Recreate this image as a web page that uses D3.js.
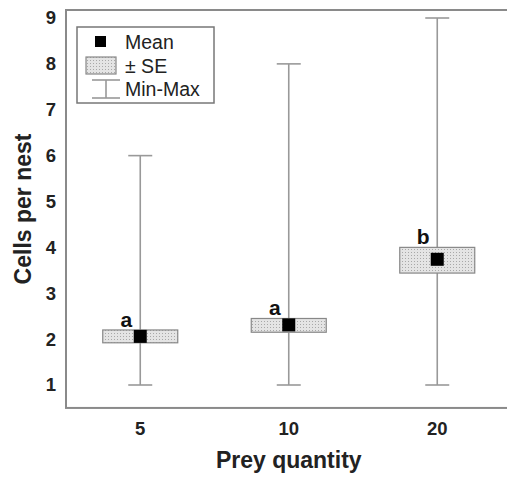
<!DOCTYPE html>
<html>
<head>
<meta charset="utf-8">
<script src="https://cdn.jsdelivr.net/npm/d3@7"></script>
<style>
  body { margin: 0; background: #fff; }
  svg { display: block; font-family: 'Liberation Sans', Arial, sans-serif; }
  .frame { fill: none; stroke: #8a8a8a; stroke-width: 2; }
  .whisker { stroke: #999; stroke-width: 1.6; }
  .se { stroke: #888; stroke-width: 1.2; }
  .axis text { font-size: 18.5px; font-weight: bold; fill: #222; }
  .title { font-size: 23px; font-weight: bold; fill: #222; }
  .letter { font-size: 21px; font-weight: bold; fill: #111; text-anchor: middle; }
  .legend text { font-size: 19.5px; fill: #222; }
</style>
</head>
<body>
<div id="chart"></div>
<script>
const width = 507
const height = 478

// data
const preyQuantity = ['5', '10', '20']
const means = [2.06, 2.31, 3.74]
const seLow = [1.92, 2.15, 3.44]
const seHigh = [2.2, 2.45, 4.0]
const mins = [1, 1, 1]
const maxs = [6, 8, 9]
const groupLetters = ['a', 'a', 'b']
const yTicks = [1, 2, 3, 4, 5, 6, 7, 8, 9]

const rows = preyQuantity.map((q, i) => ({
  q, mean: means[i], lo: seLow[i], hi: seHigh[i], min: mins[i], max: maxs[i], letter: groupLetters[i]
}))

const svg = d3.select('#chart')
  .append('svg')
  .attr('width', width)
  .attr('height', height)

// dotted fill for the SE boxes
const pat = svg.append('defs').append('pattern')
  .attr('id', 'dots')
  .attr('width', 3)
  .attr('height', 3)
  .attr('patternUnits', 'userSpaceOnUse')
pat.append('rect').attr('width', 3).attr('height', 3).attr('fill', '#e4e4e4')
pat.append('rect').attr('width', 1).attr('height', 1).attr('fill', '#a8a8a8')

const x = d3.scaleBand().domain(preyQuantity).range([66, 511.5]).padding(0)
const y = d3.scaleLinear().domain([1, 9]).range([385, 18])
const cx = d => x(d) + x.bandwidth() / 2

// frame (right side runs off the picture)
svg.append('rect')
  .attr('class', 'frame')
  .attr('x', x.range()[0])
  .attr('y', 10)
  .attr('width', x.range()[1] - x.range()[0] + 20)
  .attr('height', y(0.5) - 10)

// axes
const yAxis = svg.append('g')
  .attr('class', 'axis')
  .attr('transform', `translate(${x.range()[0]},0)`)
  .call(d3.axisLeft(y).tickValues(yTicks).tickSize(0).tickPadding(10).tickFormat(d3.format('d')))
yAxis.select('.domain').remove()

const xAxis = svg.append('g')
  .attr('class', 'axis')
  .attr('transform', `translate(0,${y(0.5)})`)
  .call(d3.axisBottom(x).tickSize(0).tickPadding(13.5))
xAxis.select('.domain').remove()

svg.append('text')
  .attr('class', 'title')
  .attr('text-anchor', 'middle')
  .attr('x', cx('10'))
  .attr('y', 468)
  .text('Prey quantity')

svg.append('text')
  .attr('class', 'title')
  .attr('text-anchor', 'middle')
  .attr('transform', `translate(31,${(10 + y(0.5)) / 2}) rotate(-90)`)
  .text('Cells per nest')

// boxes
const capW = 24
const boxW = 75
const meanS = 13
const g = svg.selectAll('.group')
  .data(rows)
  .enter()
    .append('g')
    .attr('class', 'group')

g.append('line')
  .attr('class', 'whisker')
  .attr('x1', d => cx(d.q)).attr('x2', d => cx(d.q))
  .attr('y1', d => y(d.min)).attr('y2', d => y(d.max))
g.append('line')
  .attr('class', 'whisker')
  .attr('x1', d => cx(d.q) - capW / 2).attr('x2', d => cx(d.q) + capW / 2)
  .attr('y1', d => y(d.min)).attr('y2', d => y(d.min))
g.append('line')
  .attr('class', 'whisker')
  .attr('x1', d => cx(d.q) - capW / 2).attr('x2', d => cx(d.q) + capW / 2)
  .attr('y1', d => y(d.max)).attr('y2', d => y(d.max))
g.append('rect')
  .attr('class', 'se')
  .attr('fill', 'url(#dots)')
  .attr('x', d => cx(d.q) - boxW / 2)
  .attr('y', d => y(d.hi))
  .attr('width', boxW)
  .attr('height', d => y(d.lo) - y(d.hi))
g.append('rect')
  .attr('fill', '#000')
  .attr('x', d => cx(d.q) - meanS / 2)
  .attr('y', d => y(d.mean) - meanS / 2)
  .attr('width', meanS)
  .attr('height', meanS)
g.append('text')
  .attr('class', 'letter')
  .attr('x', d => cx(d.q) - 14)
  .attr('y', d => y(d.hi) - 3)
  .text(d => d.letter)

// legend
const lg = svg.append('g').attr('class', 'legend')
lg.append('rect')
  .attr('x', 77).attr('y', 27).attr('width', 137).attr('height', 76)
  .attr('fill', '#fff').attr('stroke', '#777').attr('stroke-width', 1.5)
lg.append('rect')
  .attr('x', 95).attr('y', 36).attr('width', 11).attr('height', 11).attr('fill', '#000')
lg.append('rect')
  .attr('class', 'se').attr('fill', 'url(#dots)')
  .attr('x', 86).attr('y', 57).attr('width', 30).attr('height', 17)
lg.append('line').attr('class', 'whisker').attr('x1', 92).attr('x2', 120).attr('y1', 80).attr('y2', 80)
lg.append('line').attr('class', 'whisker').attr('x1', 92).attr('x2', 120).attr('y1', 98).attr('y2', 98)
lg.append('line').attr('class', 'whisker').attr('x1', 106).attr('x2', 106).attr('y1', 80).attr('y2', 98)
lg.append('text').attr('x', 125).attr('y', 49).text('Mean')
lg.append('text').attr('x', 125).attr('y', 73).text('± SE')
lg.append('text').attr('x', 125).attr('y', 96).text('Min-Max')
</script>
</body>
</html>
